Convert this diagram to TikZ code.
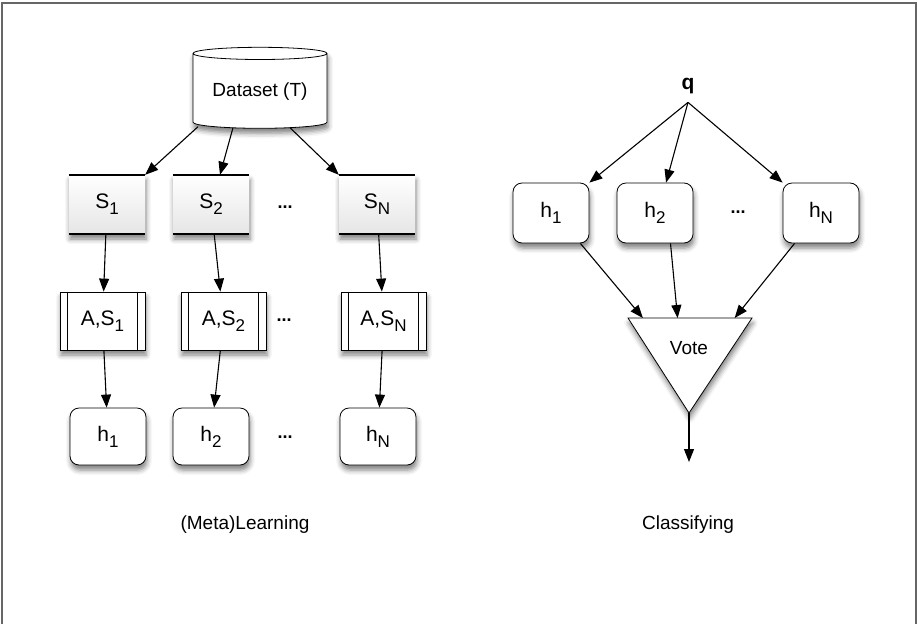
\documentclass[tikz,border=0pt]{standalone}
\usepackage{fontspec}
\setmainfont{Liberation Sans}
\usetikzlibrary{arrows.meta,shapes.geometric,shadows.blur,calc}
\newcommand{\lo}[1]{\raisebox{-6pt}{\fontsize{17}{17}\selectfont #1}}

\begin{document}
\begin{tikzpicture}[x=1pt,y=-1pt,font=\fontsize{21}{23}\selectfont]
	\useasboundingbox (0,0) rectangle (917,624);
	\draw[black!60,line width=2pt] (2,624) -- (2,3) -- (916,3) -- (916,624);

	\tikzset{soft/.style={blur shadow={shadow xshift=1pt,shadow yshift=-5pt,shadow blur radius=5pt,shadow opacity=50}}}

	% learning side
	\node[cylinder,shape border rotate=90,aspect=0.12,minimum width=134pt,minimum height=81pt,draw,thick,fill=white,soft,font=\fontsize{19}{21}\selectfont] (data) at (260,92) {Dataset (T)};

	\begin{scope}[every node/.style={minimum width=76pt,minimum height=59pt,top color=white,bottom color=black!10,soft}]
		\node (s1) at (107,204.5) {S\lo{1}};
		\node (s2) at (211,204.5) {S\lo{2}};
		\node (sn) at (377,204.5) {S\lo{N}};
	\end{scope}
	\foreach \n in {s1,s2,sn}
		\draw[line width=1.8pt] (\n.north west) -- (\n.north east) (\n.south west) -- (\n.south east);

	\begin{scope}[every node/.style={draw,thick,fill=white,minimum width=85pt,minimum height=58pt,soft}]
		\node (as1) at (102.5,321) {A,S\lo{1}};
		\node (as2) at (223.5,321) {A,S\lo{2}};
		\node (asn) at (383.5,321) {A,S\lo{N}};
	\end{scope}
	\foreach \n in {as1,as2,asn}
		\draw[thick] ([xshift=8pt]\n.north west) -- ([xshift=8pt]\n.south west)
			([xshift=-8pt]\n.north east) -- ([xshift=-8pt]\n.south east);

	\begin{scope}[every node/.style={draw,thick,fill=white,rounded corners=9pt,minimum width=76pt,minimum height=57pt,soft}]
		\node (h1) at (108,436.5) {h\lo{1}};
		\node (h2) at (211,436.5) {h\lo{2}};
		\node (hn) at (378,436.5) {h\lo{N}};
	\end{scope}

	\begin{scope}[every node/.style={font=\bfseries\fontsize{18}{18}\selectfont}]
		\node (d1) at (285,207) {...};
		\node (d2) at (284,320) {...};
		\node (d3) at (285,437) {...};
		\node (d4) at (738,212) {...};
	\end{scope}

	% classifying side
	\node[font=\bfseries\fontsize{21}{23}\selectfont] (q) at (688,86) {q};

	\begin{scope}[every node/.style={draw,thick,fill=white,rounded corners=9pt,minimum width=76pt,minimum height=60pt,soft}]
		\node (h1r) at (551,213) {h\lo{1}};
		\node (h2r) at (655,213) {h\lo{2}};
		\node (hnr) at (821,213) {h\lo{N}};
	\end{scope}

	\coordinate (vl) at (628,318);
	\coordinate (vr) at (752,318);
	\coordinate (va) at (689,413);
	\draw[thick,fill=white,soft] (vl) -- (vr) -- (va) -- cycle;
	\node[font=\fontsize{19}{21}\selectfont] (vote) at (689,348) {Vote};
	\coordinate (v1) at ($(vl)!0.12!(vr)$);
	\coordinate (v2) at ($(vl)!0.4!(vr)$);
	\coordinate (v3) at ($(vl)!0.86!(vr)$);
	\coordinate (out) at (689,462);

	\begin{scope}[>={Triangle[length=13pt,width=10pt]},
		every edge/.style={draw=black,line width=1.1pt}]
		\path ([xshift=-62pt,yshift=2pt]data.south) edge[->] (s1.north east);
		\path ([xshift=-27pt,yshift=1pt]data.south) edge[->] ([xshift=9pt]s2.north);
		\path ([xshift=30pt,yshift=1pt]data.south) edge[->] (sn.north west);

		\path (s1) edge[->] (as1);
		\path (s2) edge[->] (as2);
		\path (sn) edge[->] (asn);

		\path (as1) edge[->] (h1);
		\path (as2) edge[->] (h2);
		\path (asn) edge[->] (hn);

		\path ([yshift=-5pt]q.south) edge[->] (h1r.north east);
		\path ([yshift=-5pt]q.south) edge[->] (h2r.70);
		\path ([yshift=-5pt]q.south) edge[->] (hnr.north west);

		\path (h1r.-46) edge[->] (v1);
		\path (h2r.-63) edge[->] (v2);
		\path (hnr.-131) edge[->] (v3);

		\path (va) edge[->] (out);
	\end{scope}

	\node[font=\fontsize{19}{21}\selectfont] (learn) at (245,525) {(Meta)Learning};
	\node[font=\fontsize{19}{21}\selectfont] (classify) at (688,525) {Classifying};
\end{tikzpicture}
\end{document}
